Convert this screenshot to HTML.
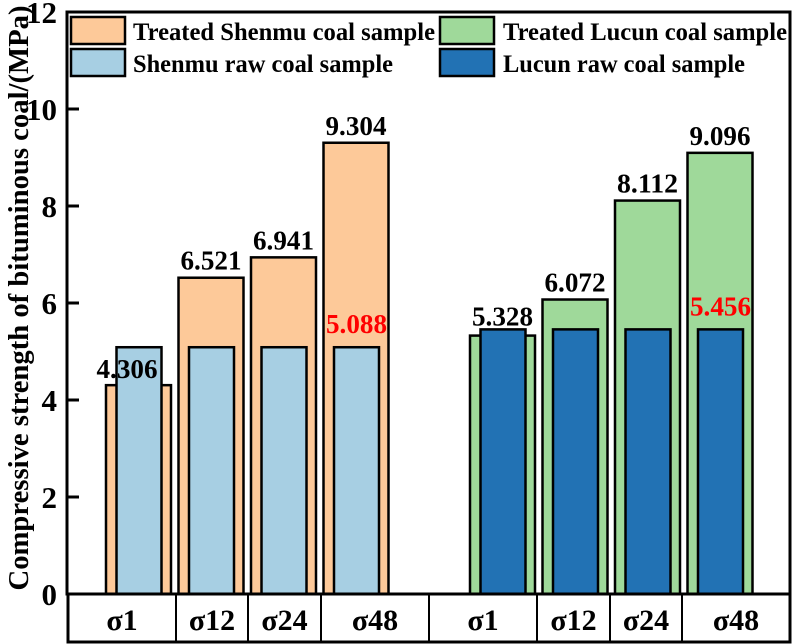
<!DOCTYPE html>
<html><head><meta charset="utf-8"><style>
html,body{margin:0;padding:0;background:#fff}
svg{display:block;font-family:"Liberation Serif","Times New Roman",serif;font-weight:bold}
</style></head><body>
<svg id="chart" width="792" height="644" viewBox="0 0 792 644">
<g id="bars"></g>
<g id="labels"></g>
<rect x="67" y="12" width="723" height="582" fill="none" stroke="#000" stroke-width="3"/>
<g id="yaxis"></g>
<text transform="translate(28,298) rotate(-90)" text-anchor="middle" font-size="28" textLength="585" lengthAdjust="spacingAndGlyphs">Compressive strength of bituminous coal/(MPa)</text>
<g id="cats"></g>
<g>
<rect x="71" y="17" width="54" height="27" fill="#fdc999" stroke="#000" stroke-width="2.5"/>
<text x="133" y="40" font-size="25" textLength="302" lengthAdjust="spacingAndGlyphs">Treated Shenmu coal sample</text>
<rect x="71" y="49" width="54" height="27" fill="#a7cfe3" stroke="#000" stroke-width="2.5"/>
<text x="133" y="72" font-size="25" textLength="260" lengthAdjust="spacingAndGlyphs">Shenmu raw coal sample</text>
<rect x="440" y="17" width="54" height="27" fill="#9fd99a" stroke="#000" stroke-width="2.5"/>
<text x="503" y="40" font-size="25" textLength="284" lengthAdjust="spacingAndGlyphs">Treated Lucun coal sample</text>
<rect x="440" y="49" width="54" height="27" fill="#2272b4" stroke="#000" stroke-width="2.5"/>
<text x="503" y="72" font-size="25" textLength="242" lengthAdjust="spacingAndGlyphs">Lucun raw coal sample</text>
</g>
</svg>
<script>
const categories = ["σ1","σ12","σ24","σ48"];
const shenmuTreated = [4.306, 6.521, 6.941, 9.304];
const shenmuRaw = [5.088, 5.088, 5.088, 5.088];
const lucunTreated = [5.328, 6.072, 8.112, 9.096];
const lucunRaw = [5.456, 5.456, 5.456, 5.456];
const yTicks = [0, 2, 4, 6, 8, 10, 12];

const NS = "http://www.w3.org/2000/svg";
const y0 = 594, yTop = 12, yMax = 12;
function yScale(v){ return y0 - (v / yMax) * (y0 - yTop); }
function groupX(g, i){ return (g === 0 ? 106 : 470) + i * 72.5; }
function mk(tag, attrs, parent){
  const e = document.createElementNS(NS, tag);
  for (const k in attrs) e.setAttribute(k, attrs[k]);
  parent.appendChild(e); return e;
}
const bars = document.getElementById('bars');
const labels = document.getElementById('labels');
const groups = [
  {t: shenmuTreated, r: shenmuRaw, tc: "#fdc999", rc: "#a7cfe3", name: "shenmu"},
  {t: lucunTreated, r: lucunRaw, tc: "#9fd99a", rc: "#2272b4", name: "lucun"}
];
groups.forEach((grp, g) => {
  categories.forEach((c, i) => {
    const x = groupX(g, i);
    const yt = yScale(grp.t[i]);
    const b1 = mk('rect', {x: x, y: yt, width: 65, height: y0 - yt, fill: grp.tc, stroke: "#000", "stroke-width": 2.5}, bars);
    
    
    const yr = yScale(grp.r[i]);
    const b2 = mk('rect', {x: x + 10.5, y: yr, width: 45, height: y0 - yr, fill: grp.rc, stroke: "#000", "stroke-width": 2.5}, bars);
    
    
    let lx = x + 32.5, ly = yt - 8;
    if (g === 0 && i === 0) { lx = x + 21; ly = yt - 7; }
    if (g === 1 && i === 0) { ly = yr - 4; }
    const t = mk('text', {x: lx, y: ly, "text-anchor": "middle", "font-size": 27, textLength: 61, lengthAdjust: "spacingAndGlyphs"}, labels);
    t.textContent = grp.t[i].toFixed(3);
    
    
    if (i === 3) {
      const r = mk('text', {x: x + 33, y: yr - 14, "text-anchor": "middle", "font-size": 27, fill: "#ff0000", textLength: 61, lengthAdjust: "spacingAndGlyphs"}, labels);
      r.textContent = grp.r[i].toFixed(3);
      
      
    }
  });
});
const ya = document.getElementById('yaxis');
yTicks.forEach(v => {
  const y = yScale(v);
  const l = mk('line', {x1: 67, x2: 79, y1: y, y2: y, stroke: "#000", "stroke-width": 3}, ya);
  
  
  const t = mk('text', {x: 57, y: y + 11, "text-anchor": "end", "font-size": 31}, ya);
  t.textContent = v;
  
  
});
const cg = document.getElementById('cats');
mk('rect', {x: 68, y: 594, width: 722, height: 48, fill: "#fff", stroke: "#000", "stroke-width": 3}, cg);
const dividers = [176, 248, 321, 429, 537, 610, 682];
dividers.forEach(d => mk('line', {x1: d, x2: d, y1: 594, y2: 642, stroke: "#000", "stroke-width": 2}, cg));
const cellEdges = [[68,176],[176,248],[248,321],[321,429],[429,537],[537,610],[610,682],[682,790]];
cellEdges.forEach((e, k) => {
  const t = mk('text', {x: (e[0] + e[1]) / 2, y: 630, "text-anchor": "middle", "font-size": 30}, cg);
  t.textContent = categories[k % 4];
  
  
});
</script>
</body></html>
